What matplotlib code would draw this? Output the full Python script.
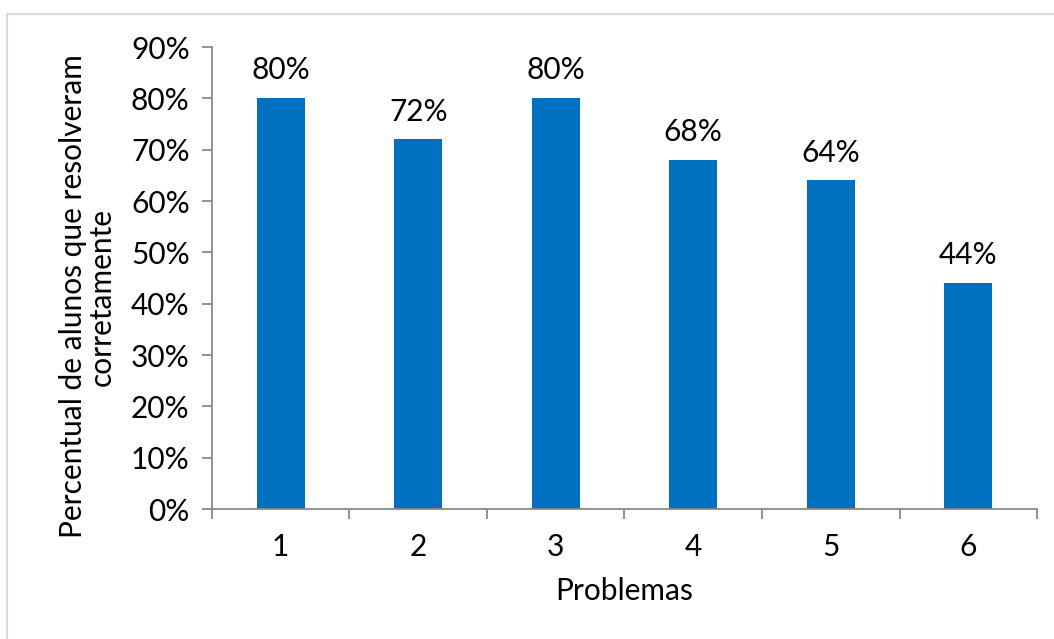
import numpy as np
import matplotlib.pyplot as plt
from matplotlib.patches import Rectangle
from matplotlib.ticker import FixedLocator

problems = ['1', '2', '3', '4', '5', '6']
percent_correct = [80, 72, 80, 68, 64, 44]

plt.rcParams['font.family'] = ['Lato', 'DejaVu Sans']
FS = 21.5

fig = plt.figure(figsize=(10.54, 6.39), dpi=100)
ax = fig.add_axes([0.2011, 0.2034, 0.7828, 0.7230])

x = np.arange(1, len(problems) + 1)
ax.bar(x, percent_correct, width=0.35, color='#0070C0', zorder=2)

for xi, v in zip(x, percent_correct):
    ax.annotate(f'{v}%', (xi, v), xytext=(0, 10), textcoords='offset points',
                ha='center', va='bottom', fontsize=FS)

ax.set_xlim(0.5, len(problems) + 0.5)
ax.set_ylim(0, 90)
ax.set_yticks(np.arange(0, 91, 10))
ax.set_yticklabels([f'{t}%' for t in range(0, 91, 10)], fontsize=FS)

# category boundaries carry the ticks, labels sit in between
ax.set_xticks(np.arange(0.5, len(problems) + 1, 1))
ax.set_xticklabels([])
ax.xaxis.set_minor_locator(FixedLocator(x))
ax.set_xticklabels(problems, minor=True, fontsize=FS)
ax.tick_params(axis='x', which='minor', length=0, pad=17)
ax.tick_params(axis='x', which='major', length=7, width=1.3, color='#898989')
ax.tick_params(axis='y', length=7, width=1.3, color='#898989', pad=9)

for side in ['top', 'right']:
    ax.spines[side].set_visible(False)
for side in ['left', 'bottom']:
    ax.spines[side].set_color('#898989')
    ax.spines[side].set_linewidth(1.3)

ax.set_xlabel('Problemas', fontsize=FS, labelpad=12)
ax.set_ylabel('Percentual de alunos que resolveram\ncorretamente', fontsize=FS,
              linespacing=1.0)
ax.yaxis.set_label_coords(-0.117, 0.46)

# light frame around the chart area
fig.patches.append(Rectangle((7 / 1054, -0.1), 1.2, 1.1 - 14 / 639,
                             transform=fig.transFigure, fill=False,
                             edgecolor='#d9d9d9', linewidth=1.5))

fig.savefig('out.png', dpi=100)
